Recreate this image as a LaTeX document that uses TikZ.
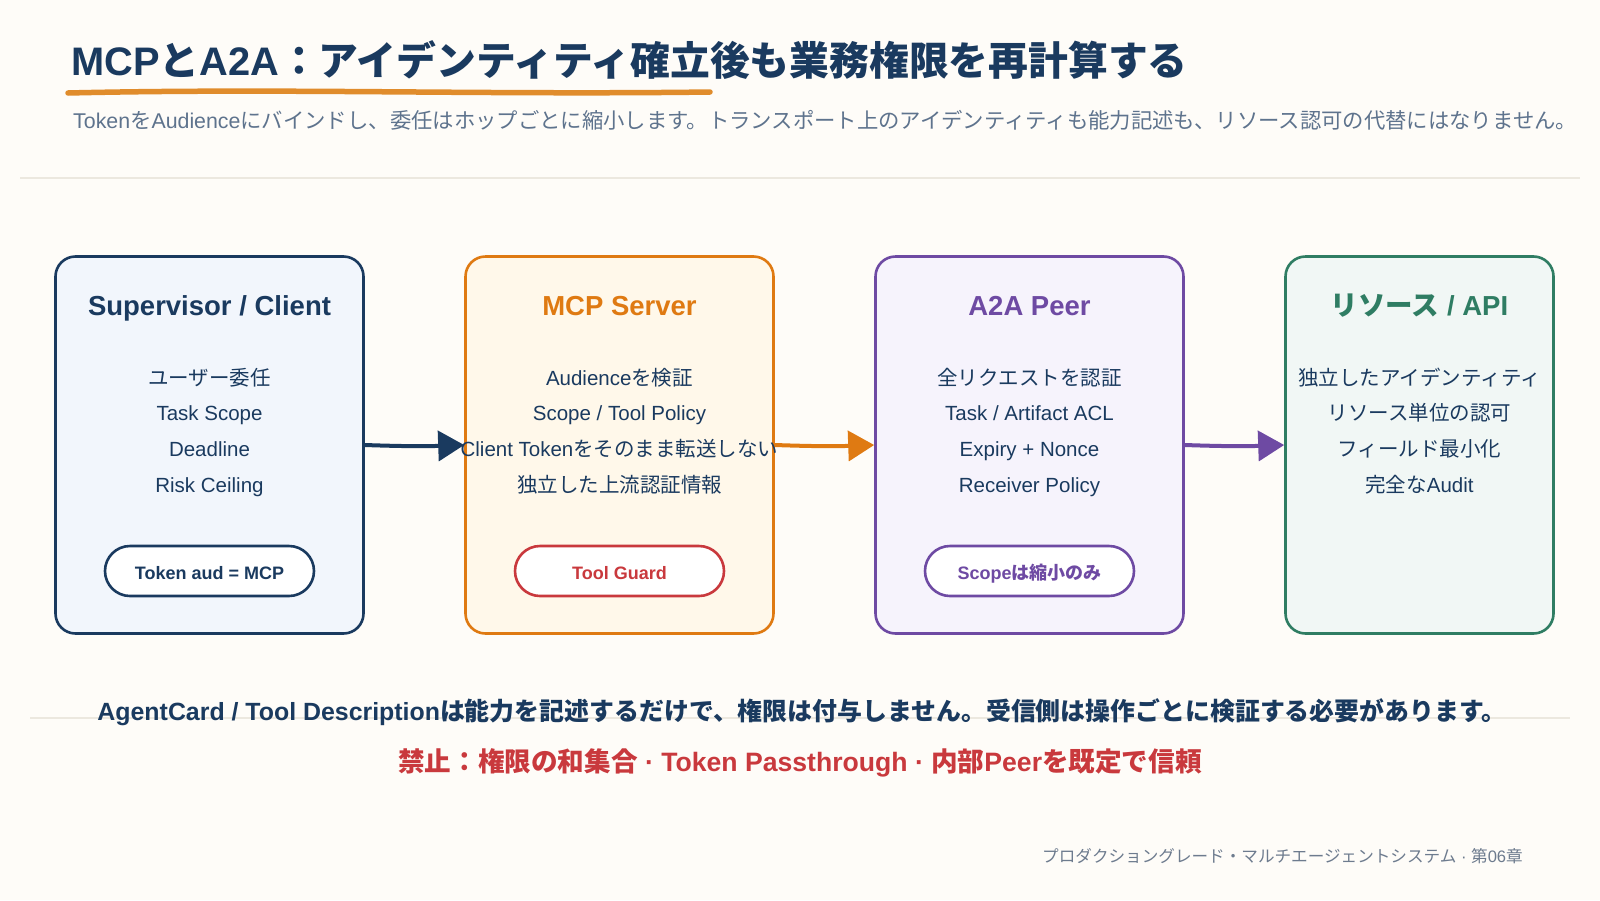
\documentclass[tikz,border=0pt]{standalone}
\usepackage{fontspec}
\setmainfont{Liberation Sans}
\newfontfamily\jp{Noto Sans CJK JP}
\usetikzlibrary{arrows.meta,positioning}

\definecolor{bg}{HTML}{FEFCF8}
\definecolor{navy}{HTML}{1A3A5F}
\definecolor{mcporange}{HTML}{DF7A12}
\definecolor{penorange}{HTML}{E08C2C}
\definecolor{guardred}{HTML}{C9393D}
\definecolor{peerpurple}{HTML}{6E4AA3}
\definecolor{apigreen}{HTML}{2F7D63}
\definecolor{subgray}{HTML}{5E738D}
\definecolor{footgray}{HTML}{6D7B8E}
\definecolor{rule}{HTML}{ECE8DF}
\definecolor{fillclient}{HTML}{F2F6FC}
\definecolor{fillmcp}{HTML}{FFF8EA}
\definecolor{fillpeer}{HTML}{F6F3FC}
\definecolor{fillapi}{HTML}{F1F7F5}

\begin{document}
\begin{tikzpicture}[x=1pt,y=-1pt,
  box/.style={line width=2.6pt,rounded corners=20pt,minimum width=308pt,minimum height=377pt,inner sep=0pt},
  head/.style={anchor=base,inner sep=0pt,font=\fontsize{27.5}{30}\selectfont\bfseries},
  item/.style={anchor=base,inner sep=0pt,text=navy,font=\fontsize{20.5}{24}\selectfont},
  pill/.style={line width=2.6pt,fill=white,rounded corners=25pt,minimum width=209pt,minimum height=50pt,
    text height=17pt,text depth=0pt,font=\fontsize{18}{20}\selectfont\bfseries},
  flow/.style={line width=4pt,-{Triangle[length=26pt,width=30pt]}}]
\useasboundingbox (0,0) rectangle (1600,900);
\fill[bg] (0,0) rectangle (1600,900);

% title block
\node[anchor=base west,inner sep=0pt,text=navy,font=\fontsize{39.8}{42}\selectfont\bfseries] (title) at (71,75)
  {MCP{\jp と}A2A{\jp ：アイデンティティ確立後も業務権限を再計算する}};
\draw[line width=5.5pt,line cap=round,penorange] (68,93) .. controls (280,88) and (480,95) .. (710,92);
\node[anchor=base west,inner sep=0pt,text=subgray,font=\fontsize{21.35}{24}\selectfont] (subtitle) at (73,128)
  {Token{\jp を}Audience{\jp にバインドし、委任はホップごとに縮小します。トランスポート上のアイデンティティも能力記述も、リソース認可の代替にはなりません。}};
\draw[line width=2pt,rule] (20,178) -- (1580,178);

% the four parties
\node[box,draw=navy,fill=fillclient] (client) at (209.5,445) {};
\node[box,draw=mcporange,fill=fillmcp] (mcp) at (619.5,445) {};
\node[box,draw=peerpurple,fill=fillpeer] (peer) at (1029.5,445) {};
\node[box,draw=apigreen,fill=fillapi,minimum width=268pt] (api) at (1419.5,445) {};

\node[head,text=navy] (clienthead) at (209.5,315) {Supervisor / Client};
\node[head,text=mcporange] (mcphead) at (619.5,315) {MCP Server};
\node[head,text=peerpurple] (peerhead) at (1029.5,315) {A2A Peer};
\node[head,text=apigreen] (apihead) at (1419.5,315) {{\jp リソース} / API};

\node[item] (client1) at (209.5,385) {\jp ユーザー委任};
\node[item] (client2) at (209.5,420) {Task Scope};
\node[item] (client3) at (209.5,456) {Deadline};
\node[item] (client4) at (209.5,492) {Risk Ceiling};

\node[item] (mcp1) at (619.5,385) {Audience{\jp を検証}};
\node[item] (mcp2) at (619.5,420) {Scope / Tool Policy};
\node[item] (mcp3) at (619.5,456) {Client Token{\jp をそのまま転送しない}};
\node[item] (mcp4) at (619.5,492) {\jp 独立した上流認証情報};

\node[item] (peer1) at (1029.5,385) {\jp 全リクエストを認証};
\node[item] (peer2) at (1029.5,420) {Task / Artifact ACL};
\node[item] (peer3) at (1029.5,456) {Expiry + Nonce};
\node[item] (peer4) at (1029.5,492) {Receiver Policy};

\node[item] (api1) at (1419.5,385) {\jp 独立したアイデンティティ};
\node[item] (api2) at (1419.5,420) {\jp リソース単位の認可};
\node[item] (api3) at (1419.5,456) {\jp フィールド最小化};
\node[item] (api4) at (1419.5,492) {{\jp 完全な}Audit};

\node[pill,draw=navy,text=navy] (clientpill) at (209.5,571) {Token aud = MCP};
\node[pill,draw=guardred,text=guardred] (mcppill) at (619.5,571) {Tool Guard};
\node[pill,draw=peerpurple,text=peerpurple] (peerpill) at (1029.5,571) {Scope{\jp は縮小のみ}};

% hops
\draw[flow,navy] (client.east) to[bend right=2] (mcp.west);
\draw[flow,mcporange] (mcp.east) to[bend right=2] (peer.west);
\draw[flow,peerpurple] (peer.east) to[bend right=2] (api.west);

% bottom notes
\draw[line width=2pt,rule] (30,718) -- (1570,718);
\node[anchor=base,inner sep=0pt,text=navy,font=\fontsize{24.9}{28}\selectfont\bfseries] (note) at (802,720)
  {AgentCard / Tool Description{\jp は能力を記述するだけで、権限は付与しません。受信側は操作ごとに検証する必要があります。}};
\node[anchor=base,inner sep=0pt,text=guardred,font=\fontsize{26.6}{30}\selectfont\bfseries] (forbid) at (800,771)
  {{\jp 禁止：権限の和集合} · Token Passthrough · {\jp 内部}Peer{\jp を既定で信頼}};
\node[anchor=base east,inner sep=0pt,text=footgray,font=\fontsize{16.6}{20}\selectfont] (footer) at (1523,862)
  {{\jp プロダクショングレード・マルチエージェントシステム} · {\jp 第}06{\jp 章}};
\end{tikzpicture}
\end{document}
